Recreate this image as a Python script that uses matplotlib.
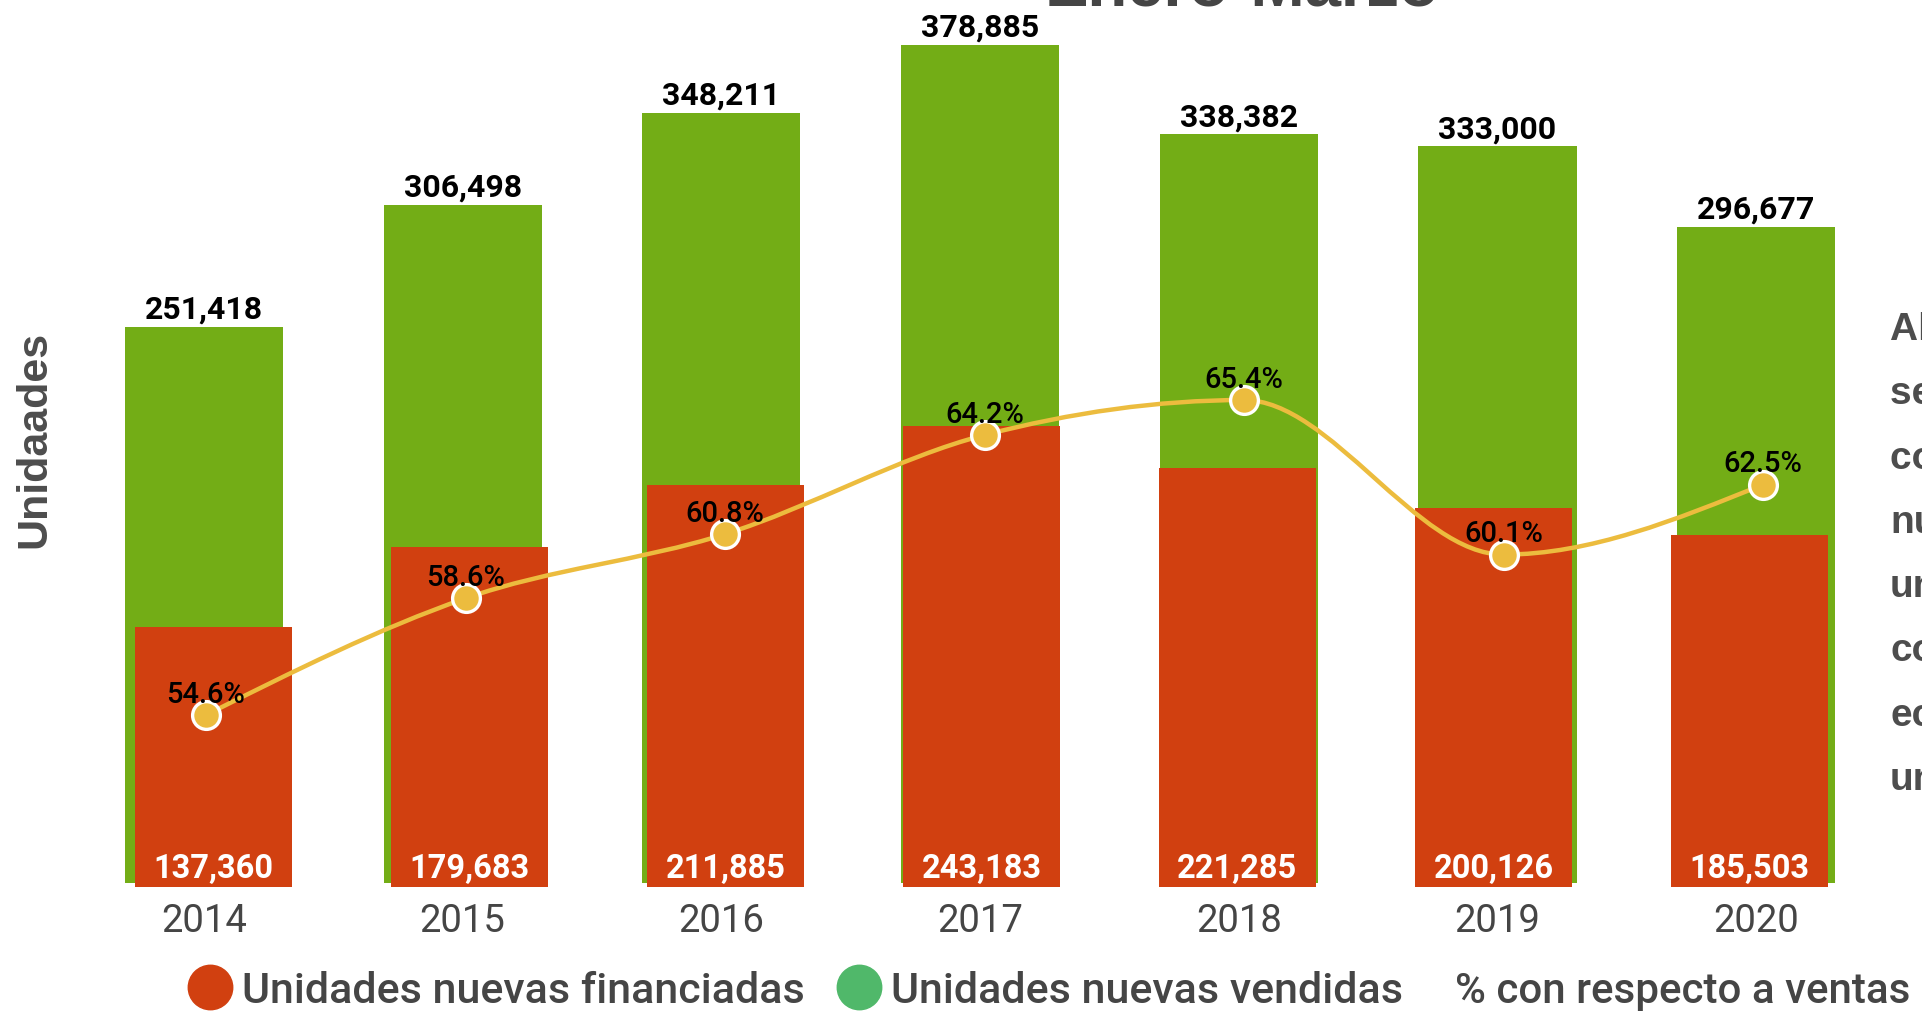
import matplotlib.pyplot as plt
import numpy as np
from matplotlib.path import Path
from matplotlib.patches import PathPatch
from matplotlib.lines import Line2D

# data
years = ['2014', '2015', '2016', '2017', '2018', '2019', '2020']
vendidas = [251418, 306498, 348211, 378885, 338382, 333000, 296677]
financiadas = [137360, 179683, 211885, 243183, 221285, 200126, 185503]
porcentaje = [54.6, 58.6, 60.8, 64.2, 65.4, 60.1, 62.5]
nota = ['Al primer trimestre', 'se financiaron', 'con crédito', 'nuevas',
        'unidades', 'colocadas', 'económicamente', 'unidades']

GREEN = '#73AD16'
RED = '#D14010'
GOLD = '#ECBC3E'
GREY = '#454545'

W, H = 1922, 1012
fig = plt.figure(figsize=(W / 100, H / 100), dpi=100)


def axes_px(left, top, width, height):
    # place an axes from pixel box (top-left origin)
    return fig.add_axes([left / W, 1 - (top + height) / H, width / W, height / H])


def clean(ax):
    for s in ax.spines.values():
        s.set_visible(False)
    ax.set_yticks([])
    ax.patch.set_visible(False)


x = np.arange(len(years))

# green bars (total sold)
ax_g = axes_px(74.6, 0, 1811, 884)
clean(ax_g)
ax_g.bar(x, vendidas, width=0.611, color=GREEN)
ax_g.set_xlim(-0.5, 6.5)
ax_g.set_ylim(0, 399638)
ax_g.set_xticks(x, years)
ax_g.tick_params(axis='x', length=0, pad=14, labelsize=27.5, labelcolor=GREY)
for lab in ax_g.get_xticklabels():
    lab.set_family('Roboto')
for i, v in enumerate(vendidas):
    ax_g.annotate(f'{v:,}', (i, v), xytext=(0, 6.5), textcoords='offset points',
                  ha='center', va='baseline', fontsize=23, fontweight='bold',
                  family='Roboto', color='black')

# red bars (financed) on their own scale
ax_r = axes_px(85.5, 0, 1792, 888)
clean(ax_r)
ax_r.set_xticks([])
ax_r.bar(x, financiadas, width=0.613, color=RED)
ax_r.set_xlim(-0.5, 6.5)
ax_r.set_ylim(0, 468602)
for i, v in enumerate(financiadas):
    ax_r.annotate(f'{v:,}', (i, 0), xytext=(0, 7.5), textcoords='offset points',
                  ha='center', va='baseline', fontsize=23.5, fontweight='bold',
                  family='Roboto', color='white')

# percentage line
ax_l = axes_px(76.25, 0, 1816.5, 884)
clean(ax_l)
ax_l.set_xticks([])
ax_l.set_xlim(-0.5, 6.5)
ax_l.set_ylim(48.84, 79.15)

# monotone cubic bezier through the points
px = x.astype(float)
py = np.array(porcentaje)
h = np.diff(px)
s = np.diff(py) / h
t = np.zeros(len(px))
for i in range(1, len(px) - 1):
    p = (s[i - 1] * h[i] + s[i] * h[i - 1]) / (h[i - 1] + h[i])
    t[i] = (np.sign(s[i - 1]) + np.sign(s[i])) * min(abs(s[i - 1]), abs(s[i]), 0.5 * abs(p))
t[0] = (3 * s[0] - t[1]) / 2
t[-1] = (3 * s[-1] - t[-2]) / 2
verts = [(px[0], py[0])]
codes = [Path.MOVETO]
for i in range(len(px) - 1):
    dx = h[i] / 3
    verts += [(px[i] + dx, py[i] + dx * t[i]),
              (px[i + 1] - dx, py[i + 1] - dx * t[i + 1]),
              (px[i + 1], py[i + 1])]
    codes += [Path.CURVE4] * 3
ax_l.add_patch(PathPatch(Path(verts, codes), facecolor='none', edgecolor=GOLD, lw=3.2))
ax_l.plot(px, py, 'o', ms=20, mfc=GOLD, mec='white', mew=2.4, zorder=3)
for i, v in enumerate(porcentaje):
    ax_l.annotate(f'{v}%', (i, v), xytext=(0, 9.5), textcoords='offset points',
                  ha='center', va='baseline', fontsize=21, fontweight='medium',
                  family='Roboto', color='black', zorder=4)

# texts
fig.text(1242 / W, 1 - 6 / H, 'Enero-Marzo', ha='center', va='baseline',
         fontsize=47, fontweight='bold', family='Liberation Sans', color=GREY)
fig.text(34 / W, 1 - 439 / H, 'Unidaades', rotation=90, ha='center', va='center',
         fontsize=31, fontweight='bold', family='Liberation Sans', color='#4d4d4d')
for k, line in enumerate(nota):
    fig.text(1890 / W, 1 - (340 + 64.3 * k) / H, line, ha='left', va='baseline',
             fontsize=28, fontweight='bold', family='Liberation Sans', color='#4d4d4d')

# legend
handles = [
    Line2D([], [], ls='none', marker='o', ms=32, mfc=RED, mec=RED),
    Line2D([], [], ls='none', marker='o', ms=32, mfc='#50B86A', mec='#50B86A'),
]
labels = ['Unidades nuevas financiadas', 'Unidades nuevas vendidas']
leg = fig.legend(handles, labels, loc='center', bbox_to_anchor=(796 / W, 1 - 992 / H),
                 ncol=2, frameon=False, handlelength=1.0, handletextpad=0.25,
                 columnspacing=0.75, borderpad=0,
                 prop={'family': 'Roboto', 'size': 31, 'weight': 'medium'})
for txt in leg.get_texts():
    txt.set_color(GREY)
fig.text(1455 / W, 1 - 992 / H, '% con respecto a ventas', ha='left', va='center',
         fontsize=30.3, fontweight='medium', family='Roboto', color=GREY)

fig.savefig('out.png', dpi=100)
